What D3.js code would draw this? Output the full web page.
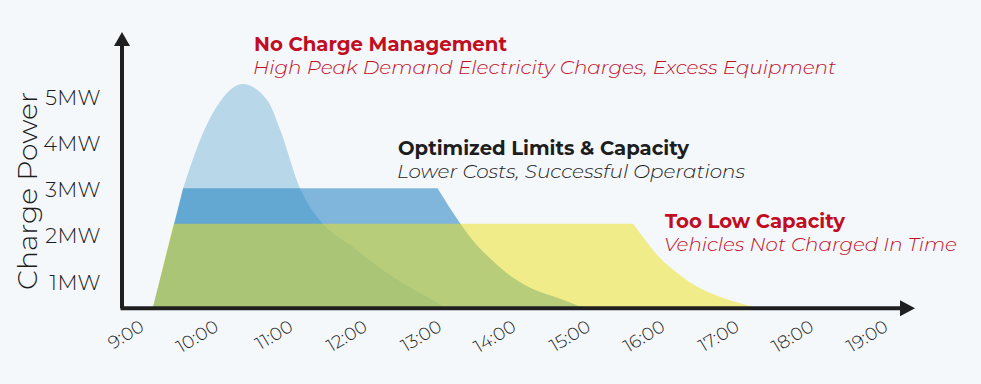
<!DOCTYPE html>
<html>
<head>
<meta charset="utf-8">
<script src="https://cdn.jsdelivr.net/npm/d3@7"></script>
<style>
	html, body { margin: 0; padding: 0; background: #f5f8fb; }
	svg { display: block; font-family: Montserrat, Inter, "Open Sans", sans-serif; }
</style>
</head>
<body>
<div id="chart"></div>
<script>
'use strict';

// x axis: hours of the day, y axis: charge power in MW
const hours = [9, 10, 11, 12, 13, 14, 15, 16, 17, 18, 19];
const powerTicks = [1, 2, 3, 4, 5];
const BASE_MW = 0.45; // level where the time axis sits

// No Charge Management: one tall peak, read as [hour, MW]
const peakRise = [[9.175, 0.45], [9.58, 3.02]];
const peakCurve = [[9.58, 3.02], [9.87, 4.3], [10.08, 4.9], [10.38, 5.27], [10.72, 4.9], [10.88, 4.3],
	[11.15, 3.02], [11.46, 2.25], [11.86, 1.75], [12.32, 1.19], [12.76, 0.76], [13.1, 0.45]];

// Optimized Limits & Capacity: plateau at 3MW
const optRise = [[9.175, 0.45], [9.58, 3.02], [13.0, 3.02]];
const optTail = [[13.0, 3.02], [13.3, 2.27], [13.5, 1.84], [13.73, 1.47], [14.0, 1.1],
	[14.31, 0.82], [14.62, 0.65], [14.94, 0.45]];

// Too Low Capacity: lower plateau lasting longer
const lowRise = [[9.175, 0.45], [9.45, 2.25], [15.63, 2.25]];
const lowTail = [[15.63, 2.25], [15.81, 1.86], [15.99, 1.51], [16.22, 1.19], [16.49, 0.89],
	[16.8, 0.67], [17.1, 0.52], [17.24, 0.45]];

const scenarioTitles = ["No Charge Management", "Optimized Limits & Capacity", "Too Low Capacity"];
const scenarioNotes = ["High Peak Demand Electricity Charges, Excess Equipment",
	"Lower Costs, Successful Operations", "Vehicles Not Charged In Time"];

const W = 981, H = 384;
const RED = "#c10d1f";
const INK = "#1d1d1d";

const svg = d3.select("#chart").append("svg")
	.attr("width", W)
	.attr("height", H)
	.attr("viewBox", `0 0 ${W} ${H}`);

svg.append("rect").attr("width", W).attr("height", H).attr("fill", "#f5f8fb");

const x = d3.scaleLinear().domain([9, 19]).range([140, 884]);
const y = d3.scaleLinear().domain([0, 5]).range([328, 96.5]);

const straight = d3.line().x(d => x(d[0])).y(d => y(d[1]));
const smooth = d3.line().x(d => x(d[0])).y(d => y(d[1])).curve(d3.curveMonotoneX);

// straight rising edge + smooth falling part, closed along the axis
function shape(rise, fall) {
	return straight(rise) + smooth(fall).replace(/^M/, "L") + "Z";
}

const gArea = svg.append("g");
gArea.append("path")
	.attr("d", shape(optRise, optTail))
	.attr("fill", "#80b6dc");
gArea.append("path")
	.attr("d", shape(peakRise, peakCurve))
	.attr("fill", "rgb(23,128,187)")
	.attr("fill-opacity", 0.27);
gArea.append("path")
	.attr("d", shape(lowRise, lowTail))
	.attr("fill", "rgb(234,225,36)")
	.attr("fill-opacity", 0.53);

// axes with arrow heads
const baseY = y(BASE_MW) + 1;
const gAxis = svg.append("g").attr("stroke", "#1f1f1f").attr("stroke-width", 4).attr("fill", "none");
gAxis.append("path").attr("d", `M122,${baseY} L122,42`);
gAxis.append("path").attr("d", `M120.5,${baseY} L902,${baseY}`);
svg.append("path")
	.attr("d", `M122,32 L130,46 L114,46 Z`)
	.attr("fill", "#1f1f1f");
svg.append("path")
	.attr("d", `M915,${baseY} L900,${baseY - 8} L900,${baseY + 8} Z`)
	.attr("fill", "#1f1f1f");

// y tick labels
const yAxis = svg.append("g")
	.attr("transform", "translate(101,0)")
	.call(d3.axisLeft(y).tickValues(powerTicks).tickFormat(d => d + "MW").tickSize(0).tickPadding(0));
yAxis.select(".domain").remove();
yAxis.selectAll("text")
	.attr("font-family", "Montserrat, Inter, sans-serif")
	.attr("font-size", 21)
	.attr("font-weight", 300)
	.attr("letter-spacing", 0.4)
	.attr("fill", INK)
	.attr("dy", "0.36em");

// x tick labels, rotated
const xAxis = svg.append("g")
	.attr("transform", "translate(0,330)")
	.call(d3.axisBottom(x).tickValues(hours).tickFormat(h => h + ":00").tickSize(0));
xAxis.select(".domain").remove();
xAxis.selectAll("text")
	.attr("x", 0)
	.attr("y", 0)
	.attr("dy", 0)
	.attr("transform", "translate(5,0) rotate(-31)")
	.attr("text-anchor", "end")
	.attr("font-family", "Montserrat, Inter, sans-serif")
	.attr("font-size", 18)
	.attr("font-weight", 300)
	.attr("fill", INK);

// y axis title
svg.append("text")
	.attr("transform", "translate(37,191) rotate(-90)")
	.attr("text-anchor", "middle")
	.attr("font-size", 26)
	.attr("font-weight", 300)
	.attr("fill", INK)
	.attr("textLength", 198)
	.attr("lengthAdjust", "spacingAndGlyphs")
	.text("Charge Power");

// annotations
const notes = [
	{ x: 254, y: 51, tw: 253, nw: 583, color: RED },
	{ x: 398, y: 155, tw: 291, nw: 348, color: INK },
	{ x: 665, y: 228, tw: 180, nw: 293, color: RED }
];
notes.forEach((n, i) => {
	svg.append("text")
		.attr("x", n.x).attr("y", n.y)
		.attr("font-size", 19)
		.attr("font-weight", 700)
		.attr("fill", n.color)
		.attr("textLength", n.tw)
		.attr("lengthAdjust", "spacingAndGlyphs")
		.text(scenarioTitles[i]);
	svg.append("text")
		.attr("x", n.x - 1).attr("y", n.y + 23)
		.attr("font-size", 19)
		.attr("font-weight", 300)
		.attr("font-style", "italic")
		.attr("fill", n.color)
		.attr("textLength", n.nw)
		.attr("lengthAdjust", "spacingAndGlyphs")
		.text(scenarioNotes[i]);
});
</script>
</body>
</html>
